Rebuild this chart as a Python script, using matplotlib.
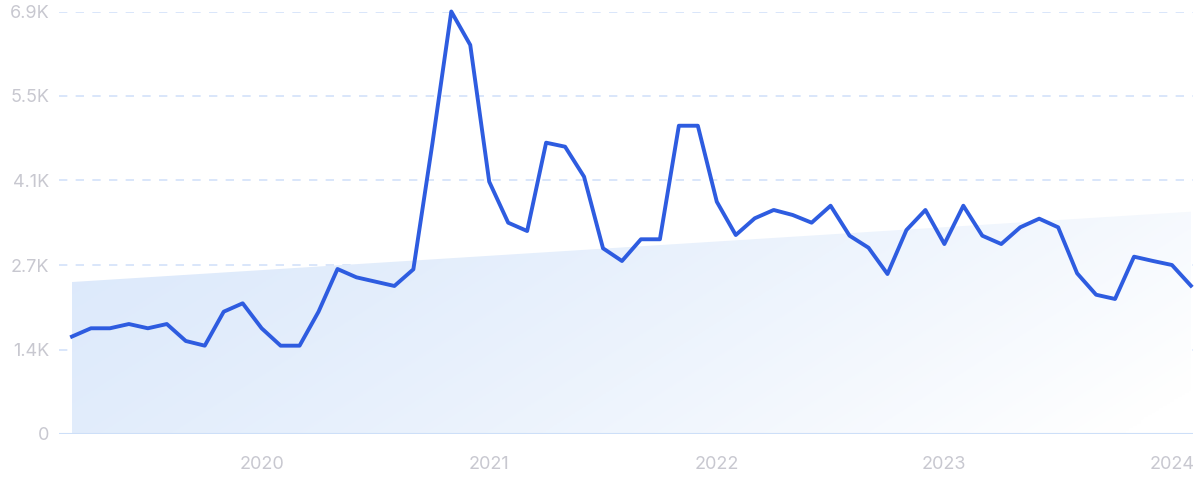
import numpy as np
import matplotlib
matplotlib.use('Agg')
import matplotlib.pyplot as plt
from matplotlib.patches import Polygon

# monthly values, Mar 2019 .. Feb 2024
values = [1580, 1714, 1714, 1783, 1714, 1783, 1508, 1432, 1983, 2119,
          1714, 1432, 1432, 1983, 2675, 2540, 2470, 2400, 2670, 4702,
          6850, 6307, 4091, 3426, 3291, 4723, 4658, 4172, 3011, 2805,
          3157, 3157, 4998, 4998, 3766, 3226, 3497, 3632, 3551, 3426,
          3701, 3215, 3020, 2594, 3307, 3632, 3080, 3701, 3215, 3080,
          3351, 3491, 3351, 2605, 2258, 2189, 2875, 2805, 2740, 2404]
trend_start = 2464
trend_end = 3604
year_labels = ['2020', '2021', '2022', '2023', '2024']
year_idx = [10, 22, 34, 46, 58]
ytick_vals = [0, 1370, 2740, 4110, 5480, 6850]
ytick_labels = ['0', '1.4K', '2.7K', '4.1K', '5.5K', '6.9K']

plt.rcParams['font.family'] = ['Inter', 'DejaVu Sans']

fig = plt.figure(figsize=(12, 4.99), dpi=100)
ax = fig.add_axes([59 / 1200, 1 - 434 / 499, 1134 / 1200, 422.5 / 499])

n = len(values)
x = np.arange(n)
ax.set_xlim(-0.685, n - 1 + 0.11)
ax.set_ylim(0, 6850)

# gradient trend area
poly = Polygon([(0, 0), (0, trend_start), (n - 1, trend_end), (n - 1, 0)],
               closed=True, facecolor='none', edgecolor='none')
ax.add_patch(poly)
gx, gy = np.meshgrid(np.linspace(0, 1, 300), np.linspace(0, 1, 100))
t = np.clip(0.8 * gx + 0.25 * gy, 0, 1) ** 1.3  # top-left blue -> bottom-right white
c0 = np.array([0xdc, 0xe9, 0xfb]) / 255
c1 = np.array([1.0, 1.0, 1.0])
img = c0[None, None, :] * (1 - t[..., None]) + c1[None, None, :] * t[..., None]
im = ax.imshow(img, extent=(0, n - 1, 0, trend_end), origin='upper',
               aspect='auto', zorder=1)
im.set_clip_path(poly)

# grid
for v in ytick_vals[1:]:
    ax.axhline(v, color='#d3e2fa', lw=1.2, ls=(0, (5, 5)), zorder=0.5)
ax.axhline(0, color='#cddff8', lw=1.5, zorder=2)

ax.plot(x, values, color='#2e5ce0', lw=2.8, zorder=3, clip_on=False)

for s in ax.spines.values():
    s.set_visible(False)
ax.set_yticks(ytick_vals)
ax.set_yticklabels(ytick_labels)
ax.set_xticks(year_idx)
ax.set_xticklabels(year_labels)
ax.tick_params(length=0, labelsize=13, colors='#c8c8d0')
ax.tick_params(axis='x', pad=16)
ax.tick_params(axis='y', pad=7)

fig.savefig('out.png', dpi=100)
